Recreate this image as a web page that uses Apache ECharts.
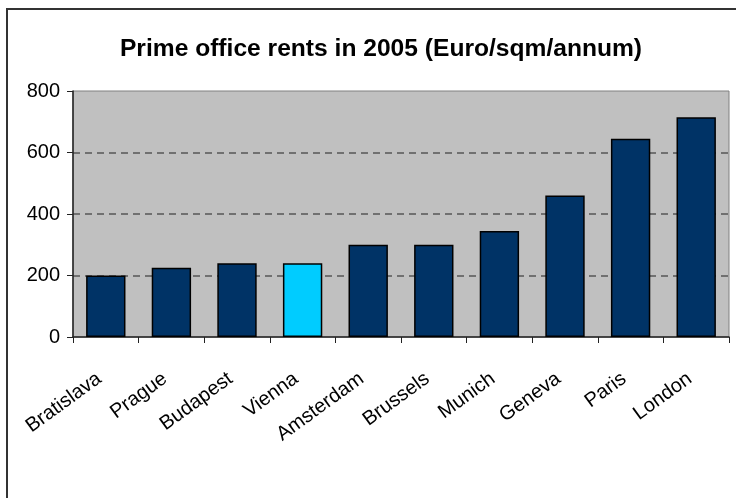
<!DOCTYPE html>
<html>
<head>
<meta charset="utf-8">
<script src="https://cdn.jsdelivr.net/npm/echarts@6/dist/echarts.min.js"></script>
<style>
  html, body { margin: 0; padding: 0; background: #ffffff; }
  #chart { width: 736px; height: 498px; }
</style>
</head>
<body>
<div id="chart"></div>
<script>
// Prime office rents, 2005 (Euro per square metre per year)
const cities = ['Bratislava', 'Prague', 'Budapest', 'Vienna', 'Amsterdam', 'Brussels', 'Munich', 'Geneva', 'Paris', 'London'];
const rents = [200, 225, 240, 240, 300, 300, 345, 460, 645, 715];
const highlightCity = 'Vienna';
const yTicks = [0, 200, 400, 600, 800];

const BAR = '#003366';
const BAR_HI = '#00CCFF';

const chart = echarts.init(document.getElementById('chart'), null, { renderer: 'canvas' });

chart.setOption({
  backgroundColor: '#ffffff',
  animation: false,
  title: {
    text: 'Prime office rents in 2005 (Euro/sqm/annum)',
    left: 376,
    top: 32,
    textAlign: 'center',
    textStyle: { fontFamily: 'Liberation Sans, Arial', fontWeight: 'bold', fontSize: 24.6, color: '#000' }
  },
  graphic: [{
    type: 'rect',
    shape: { x: 7, y: 9, width: 800, height: 600 },
    style: { fill: 'none', stroke: '#333333', lineWidth: 2 },
    silent: true
  }],
  grid: {
    left: 73, right: 7, top: 91, bottom: 161,
    show: true,
    backgroundColor: '#C0C0C0',
    borderColor: '#808080',
    borderWidth: 1
  },
  xAxis: {
    type: 'category',
    data: cities,
    axisLine: { lineStyle: { color: '#222', width: 1.5 } },
    axisTick: { show: true, length: 6, lineStyle: { color: '#222' } },
    axisLabel: {
      rotate: 36,
      margin: 35,
      padding: [0, 8, 0, 0],
      fontFamily: 'Liberation Sans, Arial',
      fontSize: 20,
      color: '#000',
      interval: 0
    }
  },
  yAxis: {
    type: 'value',
    min: yTicks[0],
    max: yTicks[yTicks.length - 1],
    interval: yTicks[1] - yTicks[0],
    axisLine: { show: true, lineStyle: { color: '#222', width: 1.5 } },
    axisTick: { show: true, length: 6, lineStyle: { color: '#222' } },
    axisLabel: {
      margin: 13,
      fontFamily: 'Liberation Sans, Arial',
      fontSize: 20,
      color: '#000'
    },
    splitLine: {
      show: true,
      showMinLine: false,
      showMaxLine: false,
      lineStyle: { color: '#555555', type: [7, 5], width: 1.5 }
    }
  },
  series: [{
    type: 'bar',
    barCategoryGap: '40%',
    data: rents.map((v, i) => ({
      value: v,
      itemStyle: { color: cities[i] === highlightCity ? BAR_HI : BAR }
    })),
    itemStyle: { borderColor: '#000', borderWidth: 1.5 }
  }]
});
</script>
</body>
</html>
